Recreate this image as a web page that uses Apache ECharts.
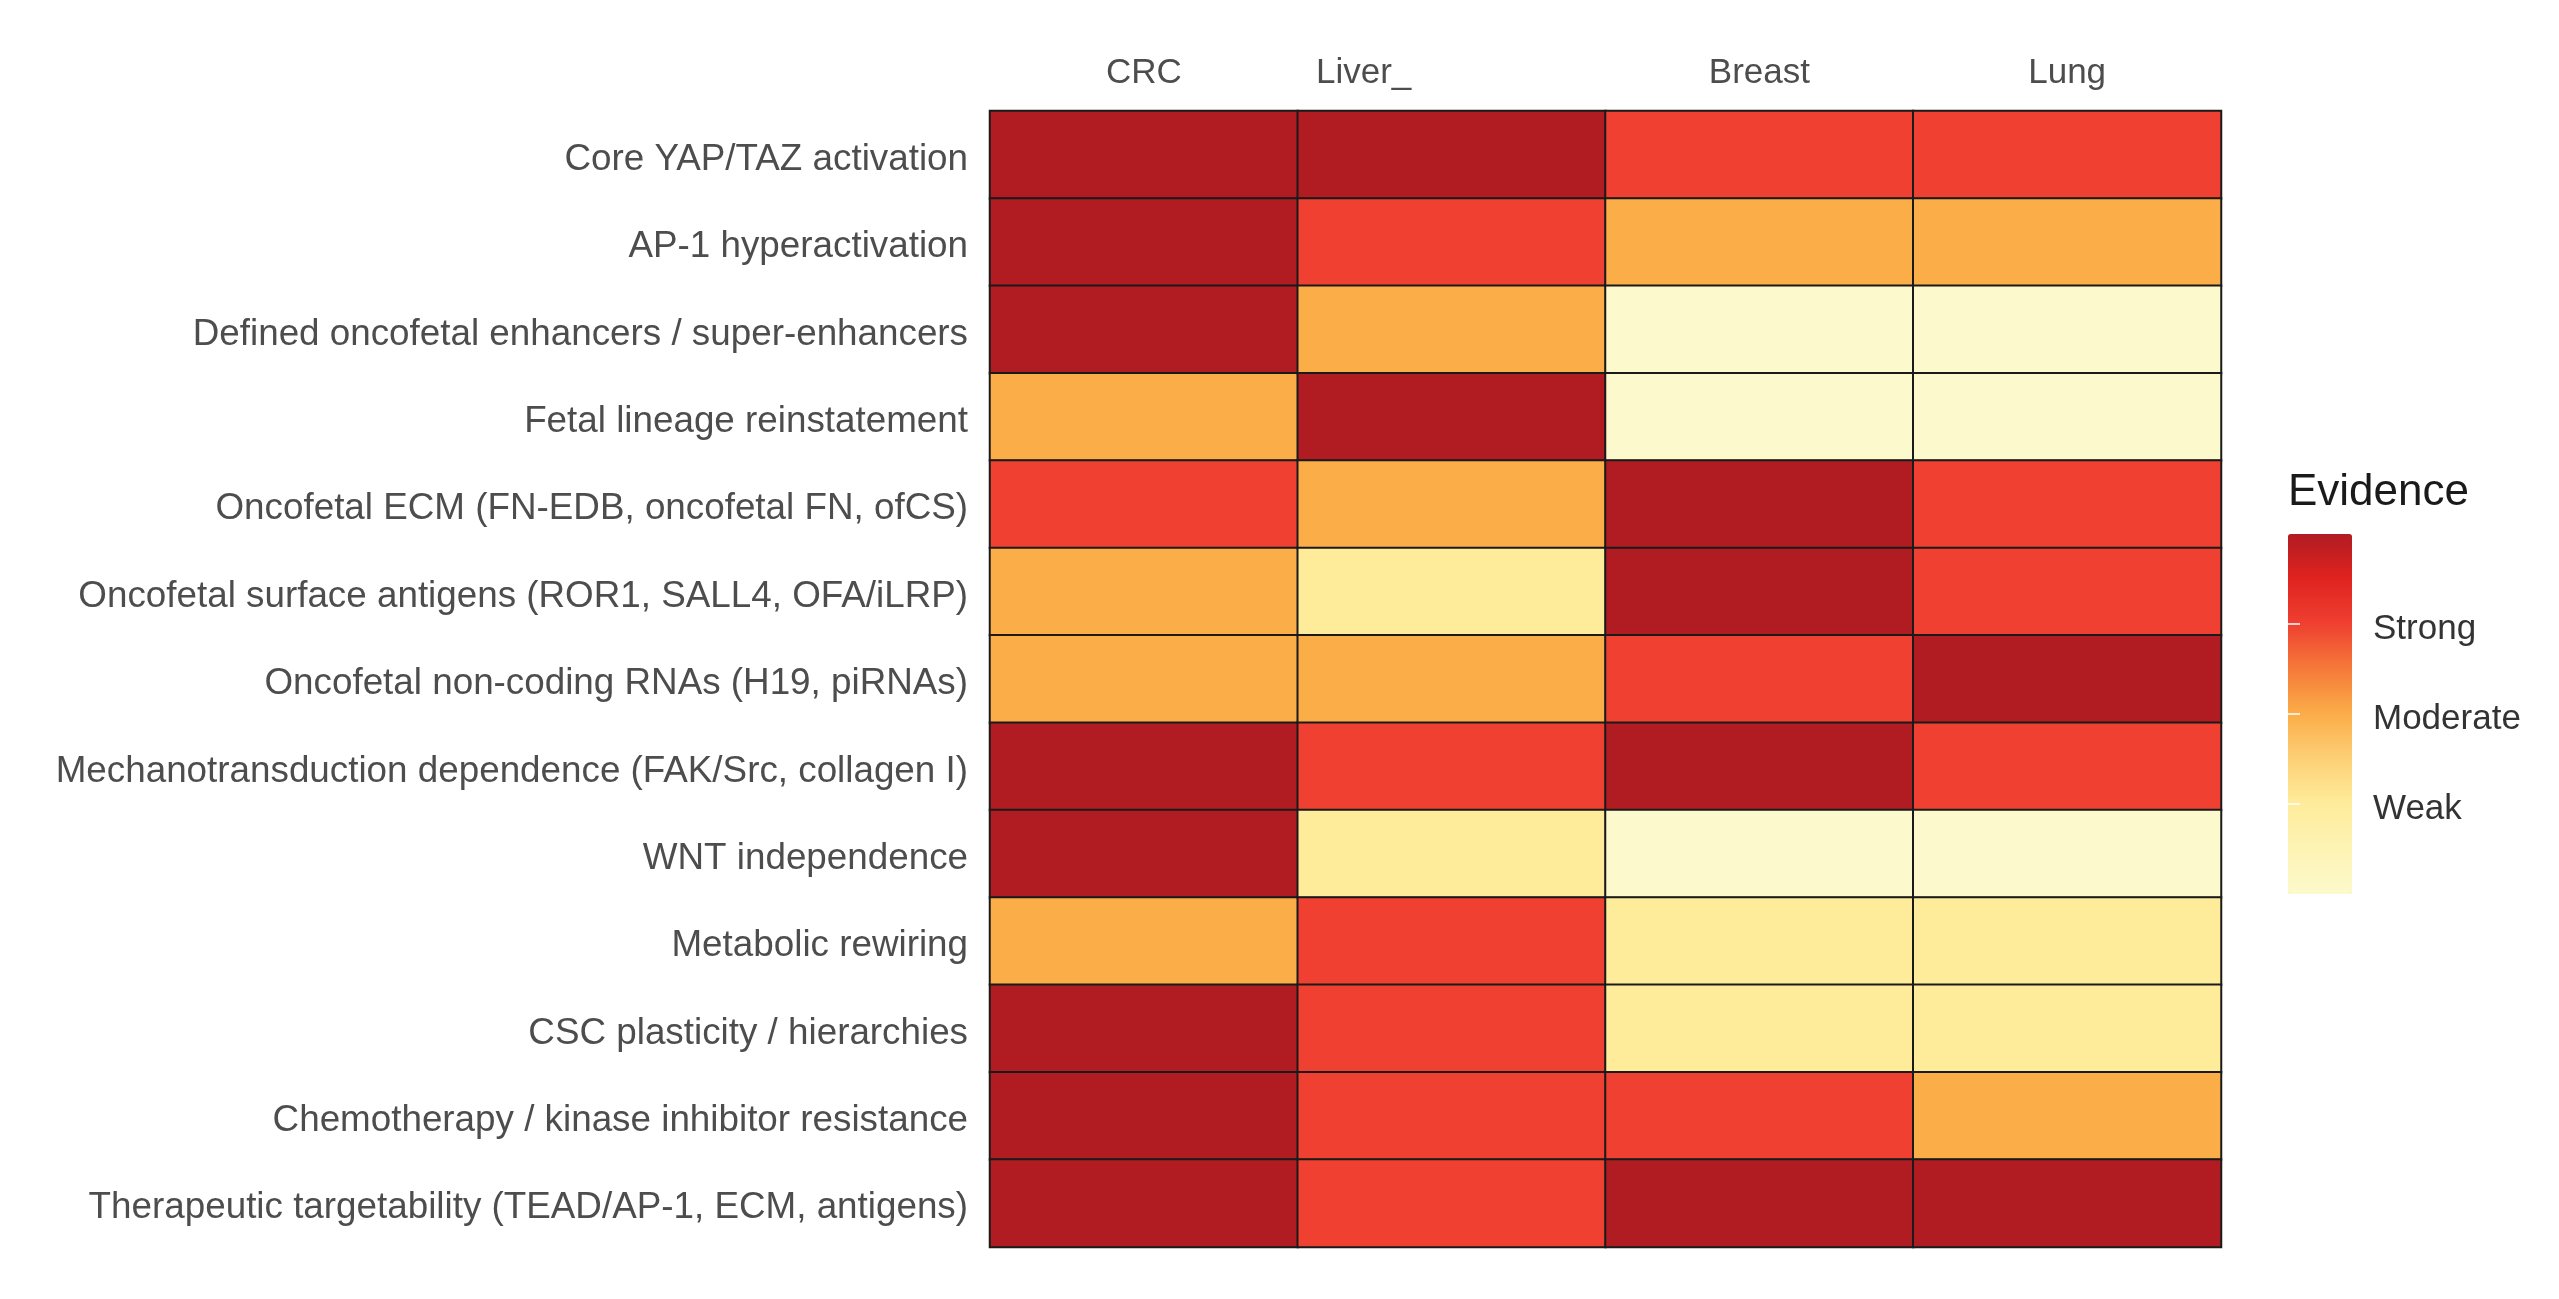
<!DOCTYPE html>
<html>
<head>
<meta charset="utf-8">
<script src="https://cdn.jsdelivr.net/npm/echarts@6/dist/echarts.min.js"></script>
<style>html,body{margin:0;padding:0;background:#fff}#c{width:2559px;height:1299px}</style>
</head>
<body>
<div id="c"></div>
<script>
const cancers = ['CRC', 'Liver_', 'Breast', 'Lung'];
const features = [
  'Core YAP/TAZ activation',
  'AP-1 hyperactivation',
  'Defined oncofetal enhancers / super-enhancers',
  'Fetal lineage reinstatement',
  'Oncofetal ECM (FN-EDB, oncofetal FN, ofCS)',
  'Oncofetal surface antigens (ROR1, SALL4, OFA/iLRP)',
  'Oncofetal non-coding RNAs (H19, piRNAs)',
  'Mechanotransduction dependence (FAK/Src, collagen I)',
  'WNT independence',
  'Metabolic rewiring',
  'CSC plasticity / hierarchies',
  'Chemotherapy / kinase inhibitor resistance',
  'Therapeutic targetability (TEAD/AP-1, ECM, antigens)'
];
// Evidence scores per feature (rows) for CRC, Liver, Breast, Lung
const crcScores    = [4, 4, 4, 2, 3, 2, 2, 4, 4, 2, 4, 4, 4];
const liverScores  = [4, 3, 2, 4, 2, 1, 2, 3, 1, 3, 3, 3, 3];
const breastScores = [3, 2, 0, 0, 4, 4, 3, 4, 0, 1, 1, 3, 4];
const lungScores   = [3, 2, 0, 0, 3, 3, 4, 3, 0, 1, 1, 2, 4];
const legendTickValues = [1, 2, 3];
const legendTickLabels = ['Weak', 'Moderate', 'Strong'];

const cols = [crcScores, liverScores, breastScores, lungScores];
const heatData = [];
cols.forEach((arr, ci) => arr.forEach((v, ri) => heatData.push([ci, ri, v])));

const FONT = '"Liberation Sans", Arial, sans-serif';
const chart = echarts.init(document.getElementById('c'));
chart.setOption({
  backgroundColor: '#ffffff',
  animation: false,
  title: {
    text: 'Evidence', left: 2288, top: 471, padding: 0,
    textStyle: { fontFamily: FONT, fontSize: 44, fontWeight: 'normal', color: '#1a1a1a' }
  },
  grid: [
    { left: 990, right: 338, top: 111, bottom: 52 },
    { left: 2288, top: 534, width: 64, height: 360 }
  ],
  xAxis: [
    {
      type: 'category', data: cancers, position: 'top', gridIndex: 0,
      axisLine: { show: false }, axisTick: { show: false }, splitLine: { show: false },
      axisLabel: {
        fontFamily: FONT, fontSize: 35, color: '#4d4d4d', margin: 20,
        formatter: v => v === 'Liver_' ? '{l|' + v + '}' : v,
        rich: { l: { fontFamily: FONT, fontSize: 35, color: '#4d4d4d', padding: [0, 176, 0, 0] } }
      }
    },
    { type: 'value', gridIndex: 1, show: false, min: 0, max: 1 }
  ],
  yAxis: [
    {
      type: 'category', data: features, inverse: true, gridIndex: 0,
      axisLine: { show: false }, axisTick: { show: false }, splitLine: { show: false },
      axisLabel: {
        margin: 22,
        formatter: v => '{r|' + v + '}',
        rich: { r: { fontFamily: FONT, fontSize: 36.8, color: '#4d4d4d', padding: [10, 0, 0, 0] } }
      }
    },
    {
      type: 'value', gridIndex: 1, min: 0, max: 4, position: 'right', z: 10,
      axisLine: { show: false }, splitLine: { show: false },
      axisTick: { show: true, inside: true, length: 12, customValues: legendTickValues,
                  lineStyle: { color: 'rgba(255,255,255,0.75)', width: 2 } },
      axisLabel: {
        margin: 21,
        customValues: legendTickValues,
        formatter: v => { const i = legendTickValues.indexOf(v); return i >= 0 ? '{t|' + legendTickLabels[i] + '}' : ''; },
        rich: { t: { fontFamily: FONT, fontSize: 35, color: '#333333', padding: [10, 0, 0, 0] } }
      }
    },
    {
      type: 'value', gridIndex: 1, min: 0, max: 4, position: 'left', z: 10,
      axisLine: { show: false }, splitLine: { show: false }, axisLabel: { show: false },
      axisTick: { show: true, inside: true, length: 12, customValues: legendTickValues,
                  lineStyle: { color: 'rgba(255,255,255,0.75)', width: 2 } }
    }
  ],
  visualMap: {
    type: 'continuous', min: 0, max: 4, dimension: 2, seriesIndex: 0,
    orient: 'vertical', left: 2288, top: 534, itemWidth: 64, itemHeight: 360,
    padding: 0, calculable: false, hoverLink: false, showLabel: false,
    inRange: { color: ['#fcf9cc', '#fdf3b4', '#feec9b', '#fdd077', '#fbad48', '#f57a3a', '#ef4031', '#e0231f', '#b11c23'] }
  },
  series: [{
    type: 'heatmap', xAxisIndex: 0, yAxisIndex: 0, data: heatData,
    itemStyle: { borderColor: '#1a1a1a', borderWidth: 2 },
    emphasis: { disabled: true }
  }]
});
</script>
</body>
</html>
